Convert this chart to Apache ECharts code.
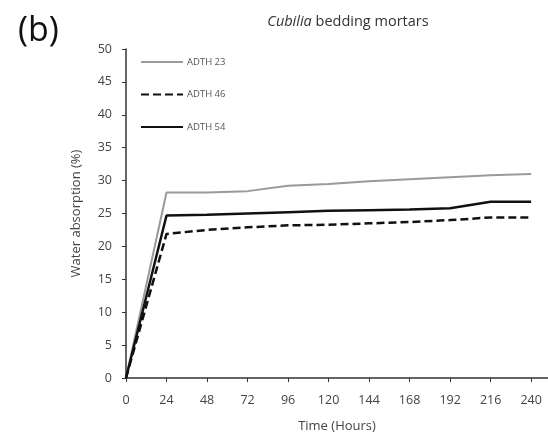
<!DOCTYPE html>
<html>
<head>
<meta charset="utf-8">
<script src="https://cdn.jsdelivr.net/npm/echarts@6/dist/echarts.min.js"></script>
<style>
  html, body { margin: 0; padding: 0; background: #fff; }
  #chart { width: 548px; height: 443px; }
</style>
</head>
<body>
<div id="chart"></div>
<script>
// Immersion time in hours
const hours = [0, 24, 48, 72, 96, 120, 144, 168, 192, 216, 240];
// Water absorption (%) per mortar sample
const adth23 = [0, 28.2, 28.2, 28.4, 29.2, 29.5, 29.9, 30.2, 30.5, 30.8, 31.0];
const adth46 = [0, 21.9, 22.5, 22.9, 23.2, 23.3, 23.5, 23.7, 24.0, 24.4, 24.4];
const adth54 = [0, 24.7, 24.8, 25.0, 25.2, 25.4, 25.5, 25.6, 25.8, 26.8, 26.8];
const seriesNames = ['ADTH 23', 'ADTH 46', 'ADTH 54'];

const pairs = vals => hours.map((h, i) => [h, vals[i]]);
const font = 'Open Sans, Liberation Sans, sans-serif';

const chart = echarts.init(document.getElementById('chart'));
chart.setOption({
  animation: false,
  backgroundColor: '#fff',
  title: [
    {
      text: '(b)', left: 13, top: 9,
      textStyle: { fontFamily: font, fontSize: 34, fontWeight: 'normal', color: '#111' }
    },
    {
      text: '{i|Cubilia} bedding mortars', left: 343, top: 9, textAlign: 'center',
      textStyle: {
        fontFamily: font, fontSize: 14.5, fontWeight: 'normal', color: '#333',
        rich: { i: { fontStyle: 'italic', fontFamily: font, fontSize: 14.5, color: '#333' } }
      }
    }
  ],
  legend: {
    orient: 'vertical', left: 135, top: 52,
    itemWidth: 42, itemHeight: 10, itemGap: 22.5,
    data: seriesNames,
    itemStyle: { color: 'transparent', borderWidth: 0 },
    textStyle: { fontFamily: font, fontSize: 9.5, color: '#555', padding: [0, 0, 0, -1] }
  },
  grid: { left: 126, right: 0, top: 49, bottom: 65 },
  xAxis: {
    type: 'value', min: 0, max: 250, interval: 24,
    name: 'Time (Hours)', nameLocation: 'middle', nameGap: 42,
    nameTextStyle: { fontFamily: font, fontSize: 13, color: '#444' },
    axisLine: { lineStyle: { color: '#333', width: 1.5 } },
    axisTick: { length: 4, lineStyle: { color: '#333' } },
    axisLabel: { showMaxLabel: false, fontFamily: font, fontSize: 12.5, color: '#444', margin: 16 },
    splitLine: { show: false }
  },
  yAxis: {
    type: 'value', min: 0, max: 50, interval: 5,
    name: 'Water absorption (%)', nameLocation: 'middle', nameGap: 43,
    nameTextStyle: { fontFamily: font, fontSize: 13, color: '#444' },
    axisLine: { show: true, lineStyle: { color: '#333', width: 1.5 } },
    axisTick: { show: true, length: 4, lineStyle: { color: '#333' } },
    axisLabel: { fontFamily: font, fontSize: 12.5, color: '#444', margin: 14 },
    splitLine: { show: false }
  },
  series: [
    {
      name: seriesNames[0], type: 'line', data: pairs(adth23), symbol: 'none',
      lineStyle: { color: '#9a9a9a', width: 2 }, itemStyle: { color: '#9a9a9a' }
    },
    {
      name: seriesNames[1], type: 'line', data: pairs(adth46), symbol: 'none',
      lineStyle: { color: '#111', width: 2.5, type: [8, 4] }, itemStyle: { color: '#111' }
    },
    {
      name: seriesNames[2], type: 'line', data: pairs(adth54), symbol: 'none',
      lineStyle: { color: '#111', width: 2.5 }, itemStyle: { color: '#111' }
    }
  ]
});
</script>
</body>
</html>
